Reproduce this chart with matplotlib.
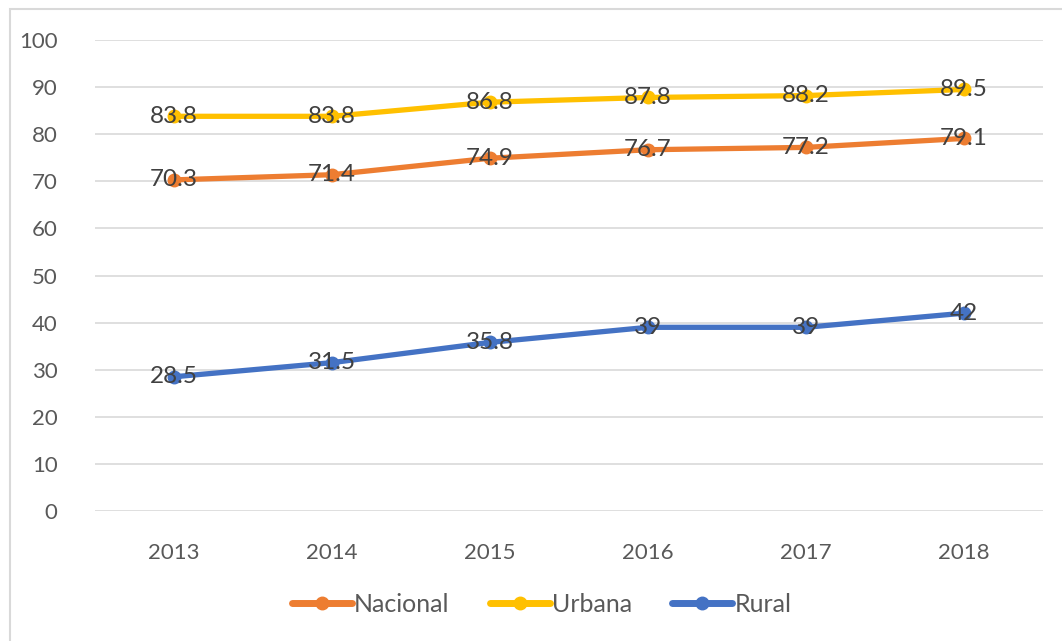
import matplotlib
matplotlib.use("Agg")
import matplotlib.pyplot as plt
from matplotlib.patches import Rectangle

years = ["2013", "2014", "2015", "2016", "2017", "2018"]
nacional = [70.3, 71.4, 74.9, 76.7, 77.2, 79.1]
urbana = [83.8, 83.8, 86.8, 87.8, 88.2, 89.5]
rural = [28.5, 31.5, 35.8, 39, 39, 42]

series = [
    ("Nacional", nacional, "#ED7D31"),
    ("Urbana", urbana, "#FFC000"),
    ("Rural", rural, "#4472C4"),
]

plt.rcParams["font.family"] = ["Lato", "DejaVu Sans"]

fig = plt.figure(figsize=(10.62, 6.41), dpi=100)
ax = fig.add_axes([0.0895, 0.2028, 0.8925, 0.7348])

# chart border (cut off at right and bottom like the source)
fig.patches.append(Rectangle((10 / 1062, -0.1), 1.2, 1 - 9 / 641 + 0.1,
                             transform=fig.transFigure, fill=False,
                             edgecolor="#D9D9D9", linewidth=1.5))

x = list(range(len(years)))
for name, vals, col in series:
    ax.plot(x, vals, color=col, linewidth=3.8, marker="o", markersize=9,
            solid_capstyle="round", label=name, zorder=3)
    for xi, v in zip(x, vals):
        ax.text(xi, v, f"{v:g}", ha="center", va="center", fontsize=17.5,
                color="#404040", zorder=4)

ax.set_xlim(-0.5, 5.5)
ax.set_ylim(0, 100)
ax.set_yticks(range(0, 101, 10))
ax.set_xticks(x)
ax.set_xticklabels(years)
ax.grid(axis="y", color="#D9D9D9", linewidth=1.2)
ax.set_axisbelow(True)
for s in ax.spines.values():
    s.set_visible(False)
ax.tick_params(length=0, labelsize=16, labelcolor="#595959")
ax.tick_params(axis="y", pad=27)
ax.tick_params(axis="x", pad=23)

leg = fig.legend(loc="center", bbox_to_anchor=(0.51, 0.0577), ncol=3,
                 frameon=False, fontsize=18, handlelength=2.4,
                 handletextpad=0.1, columnspacing=1.6)
for line in leg.get_lines():
    line.set_linewidth(5)
for t in leg.get_texts():
    t.set_color("#595959")

fig.savefig("out.png", dpi=100)
